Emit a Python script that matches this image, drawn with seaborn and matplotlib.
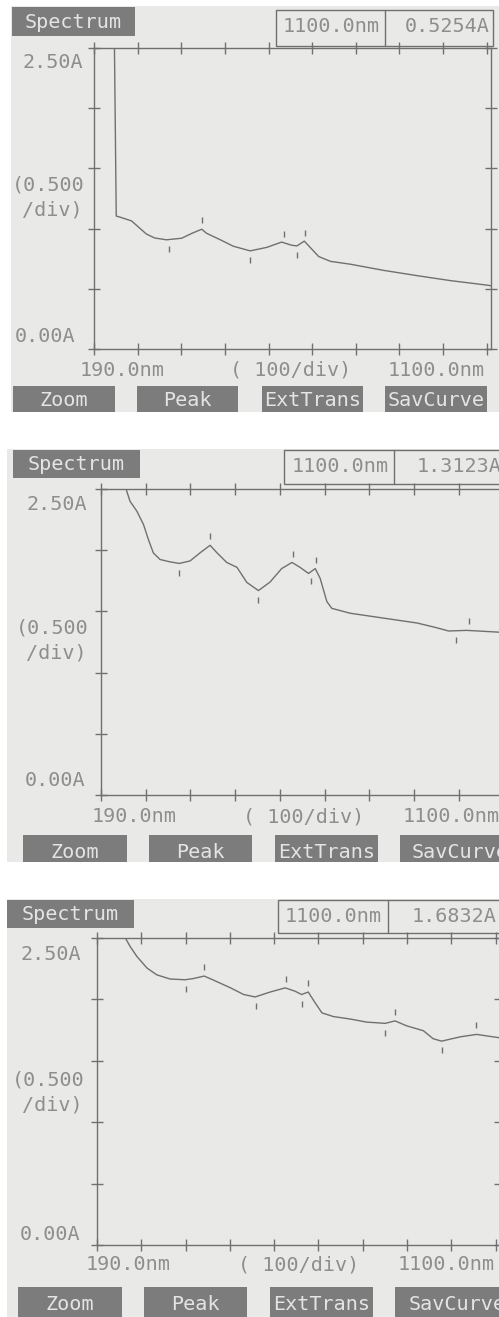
import numpy as np
import pandas as pd
import matplotlib
matplotlib.use("Agg")
import matplotlib.pyplot as plt
from matplotlib.patches import Rectangle
from matplotlib.lines import Line2D
import seaborn as sns

# ---------------------------------------------------------------- data
# Scan 1: absorbance spectrum, 190-1100 nm
wl_1 = [236, 241, 249, 276, 310, 329, 356, 391, 414, 437, 448, 479, 509, 548,
        586, 620, 643, 655, 672, 686, 705, 732, 778, 854, 931, 1007, 1092, 1100]
abs_1 = [2.80, 1.104, 1.096, 1.064, 0.955, 0.922, 0.907, 0.920, 0.960, 0.995,
         0.961, 0.908, 0.854, 0.815, 0.844, 0.888, 0.862, 0.856, 0.896, 0.842,
         0.768, 0.728, 0.704, 0.653, 0.609, 0.568, 0.530, 0.5254]
peaks_1 = [437, 625, 673]
valleys_1 = [362, 548, 655]

# Scan 2
wl_2 = [238, 246, 255, 270, 285, 296, 307, 322, 344, 365, 389, 412, 434, 449,
        471, 494, 516, 542, 568, 594, 617, 635, 654, 669, 680, 695, 706, 747,
        822, 897, 941, 967, 1008, 1081, 1100]
abs_2 = [2.70, 2.50, 2.399, 2.32, 2.21, 2.087, 1.978, 1.924, 1.905, 1.892,
         1.912, 1.98, 2.04, 1.98, 1.90, 1.86, 1.737, 1.67, 1.74, 1.85, 1.90,
         1.86, 1.81, 1.85, 1.77, 1.58, 1.525, 1.485, 1.445, 1.405, 1.366,
         1.34, 1.345, 1.33, 1.3123]
peaks_2 = [434, 619, 670, 1013]
valleys_2 = [365, 542, 659, 983]

# Scan 3
wl_3 = [246, 254, 265, 280, 303, 325, 355, 389, 408, 432, 453, 491, 521, 547,
        581, 615, 637, 652, 667, 683, 698, 724, 762, 799, 841, 863, 889, 927,
        949, 968, 1010, 1047, 1098, 1100]
abs_3 = [2.62, 2.50, 2.43, 2.35, 2.255, 2.20, 2.166, 2.16, 2.17, 2.19, 2.157,
         2.095, 2.04, 2.02, 2.06, 2.094, 2.067, 2.04, 2.06, 1.97, 1.89, 1.86,
         1.84, 1.815, 1.805, 1.825, 1.785, 1.745, 1.68, 1.66, 1.695, 1.715,
         1.688, 1.6832]
peaks_3 = [432, 617, 667, 864, 1046]
valleys_3 = [390, 550, 652, 840, 968]

x_ticks = list(range(190, 1100, 100))
y_ticks = [0.0, 0.5, 1.0, 1.5, 2.0, 2.5]
buttons = ["Zoom", "Peak", "ExtTrans", "SavCurve"]
end_wl = 1100.0

# ---------------------------------------------------------------- style
PAPER = "#e9e9e8"
INK = "#707070"
TEXT = "#8e8e8e"
KEY = "#7c7c7c"
KEY_TEXT = "#e4e4e4"
FS = 14.5

sns.set_theme(style="white")
plt.rcParams["font.family"] = ["DejaVu Sans Mono", "DejaVu Sans"]

W, H = 499, 1317
fig = plt.figure(figsize=(W / 100, H / 100), dpi=100, facecolor="white")


def fx(px):
    return px / W


def fy(py):
    return 1 - py / H


def frect(x0, y0, x1, y1, **kw):
    r = Rectangle((fx(x0), fy(y1)), fx(x1) - fx(x0), fy(y0) - fy(y1),
                  transform=fig.transFigure, **kw)
    fig.add_artist(r)
    return r


def ftext(px, py, s, **kw):
    kw.setdefault("color", TEXT)
    kw.setdefault("fontsize", FS)
    kw.setdefault("va", "center")
    kw.setdefault("ha", "left")
    fig.text(fx(px), fy(py), s, **kw)


# screen layout of each printout (pixel positions on the page)
layouts = [
    dict(photo=(11, 6, 499, 412), spec=(12, 7, 135, 36),
         readout=(276, 10, 493, 46), divider=385, rd_text=(283, 27, 405),
         axes=(94, 48, 491, 349),
         ylab=[(22, 62, "2.50A"), (12, 185, "(0.500"), (22, 210, "/div)"), (15, 337, "0.00A")],
         xlab_y=370, xlab_x=(80, 230, 388),
         keys_y=(386, 416, 400), keys_x=[(13, 115), (137, 238), (262, 363), (385, 487)]),
    dict(photo=(7, 449, 499, 862), spec=(13, 450, 140, 478),
         readout=(284, 450, 530, 484), divider=394, rd_text=(292, 466, 417),
         axes=(101, 489, 508, 795),
         ylab=[(26, 505, "2.50A"), (16, 628, "(0.500"), (26, 653, "/div)"), (25, 780, "0.00A")],
         xlab_y=817, xlab_x=(92, 243, 403),
         keys_y=(835, 866, 852), keys_x=[(23, 127), (149, 252), (275, 378), (400, 520)]),
    dict(photo=(7, 899, 499, 1317), spec=(7, 900, 134, 928),
         readout=(278, 900, 530, 933), divider=388, rd_text=(285, 917, 412),
         axes=(97, 938, 500, 1245),
         ylab=[(20, 955, "2.50A"), (12, 1080, "(0.500"), (22, 1105, "/div)"), (20, 1235, "0.00A")],
         xlab_y=1265, xlab_x=(86, 238, 398),
         keys_y=(1287, 1325, 1305), keys_x=[(18, 122), (144, 247), (270, 373), (395, 520)]),
]

scans = [(wl_1, abs_1, peaks_1, valleys_1),
         (wl_2, abs_2, peaks_2, valleys_2),
         (wl_3, abs_3, peaks_3, valleys_3)]

for lay, (wl, ab, pk, vl) in zip(layouts, scans):
    # paper
    frect(*lay["photo"], facecolor=PAPER, edgecolor="none", zorder=-10)

    # title key and readout box
    x0, y0, x1, y1 = lay["spec"]
    frect(x0, y0, x1, y1, facecolor=KEY, edgecolor="none", zorder=2)
    ftext((x0 + x1) / 2, (y0 + y1) / 2 + 1, "Spectrum", ha="center",
          color=KEY_TEXT, zorder=3)

    x0, y0, x1, y1 = lay["readout"]
    frect(x0, y0, x1, y1, facecolor="none", edgecolor=INK, lw=1.0, zorder=2)
    fig.add_artist(Line2D([fx(lay["divider"])] * 2, [fy(y0), fy(y1)],
                          transform=fig.transFigure, color=INK, lw=1.0, zorder=2))
    tx, ty, vx = lay["rd_text"]
    ftext(tx, ty, f"{end_wl:.1f}nm", zorder=3)
    ftext(vx, ty, f"{ab[-1]:.4f}A", zorder=3)

    # plot area
    ax0, ay0, ax1, ay1 = lay["axes"]
    ax = fig.add_axes([fx(ax0), fy(ay1), fx(ax1) - fx(ax0), fy(ay0) - fy(ay1)])
    ax.set_facecolor("none")
    df = pd.DataFrame({"wavelength": wl, "absorbance": ab})
    sns.lineplot(data=df, x="wavelength", y="absorbance", ax=ax, color=INK,
                 linewidth=1.0, estimator=None, sort=False)
    # peak / valley pick marks
    off = 0.075
    pk_y = np.interp(pk, wl, ab) + off
    vl_y = np.interp(vl, wl, ab) - off
    sns.scatterplot(x=list(pk) + list(vl), y=list(pk_y) + list(vl_y), ax=ax,
                    marker="|", s=22, color=INK, linewidth=1.0, legend=False)
    ax.set_xlim(190, 1100)
    ax.set_ylim(0, 2.5)
    ax.set_xticks(x_ticks)
    ax.set_yticks(y_ticks)
    ax.set_xticklabels([])
    ax.set_yticklabels([])
    ax.set_xlabel("")
    ax.set_ylabel("")
    ax.tick_params(axis="both", which="both", direction="inout", length=9,
                   width=1.0, color=INK, top=True, right=True, bottom=True,
                   left=True)
    for sp in ax.spines.values():
        sp.set_visible(True)
        sp.set_color(INK)
        sp.set_linewidth(1.0)

    # axis captions
    for px, py, s in lay["ylab"]:
        ftext(px, py, s)
    xa, xb, xc = lay["xlab_x"]
    ftext(xa, lay["xlab_y"], "190.0nm")
    ftext(xb, lay["xlab_y"], "( 100/div)")
    ftext(xc, lay["xlab_y"], f"{end_wl:.1f}nm")

    # soft keys
    ky0, ky1, kyt = lay["keys_y"]
    for (kx0, kx1), name in zip(lay["keys_x"], buttons):
        frect(kx0, ky0, kx1, ky1, facecolor=KEY, edgecolor="none", zorder=2)
        ftext((kx0 + kx1) / 2, kyt, name, ha="center", color=KEY_TEXT, zorder=3)

# white page margins between the printouts
for box in [(0, 0, W, 6), (0, 0, 11, 412), (0, 412, W, 449), (0, 449, 7, 862),
            (0, 862, W, 899), (0, 899, 7, H)]:
    frect(*box, facecolor="white", edgecolor="none", zorder=20)

fig.savefig("out.png", dpi=100, facecolor="white")
